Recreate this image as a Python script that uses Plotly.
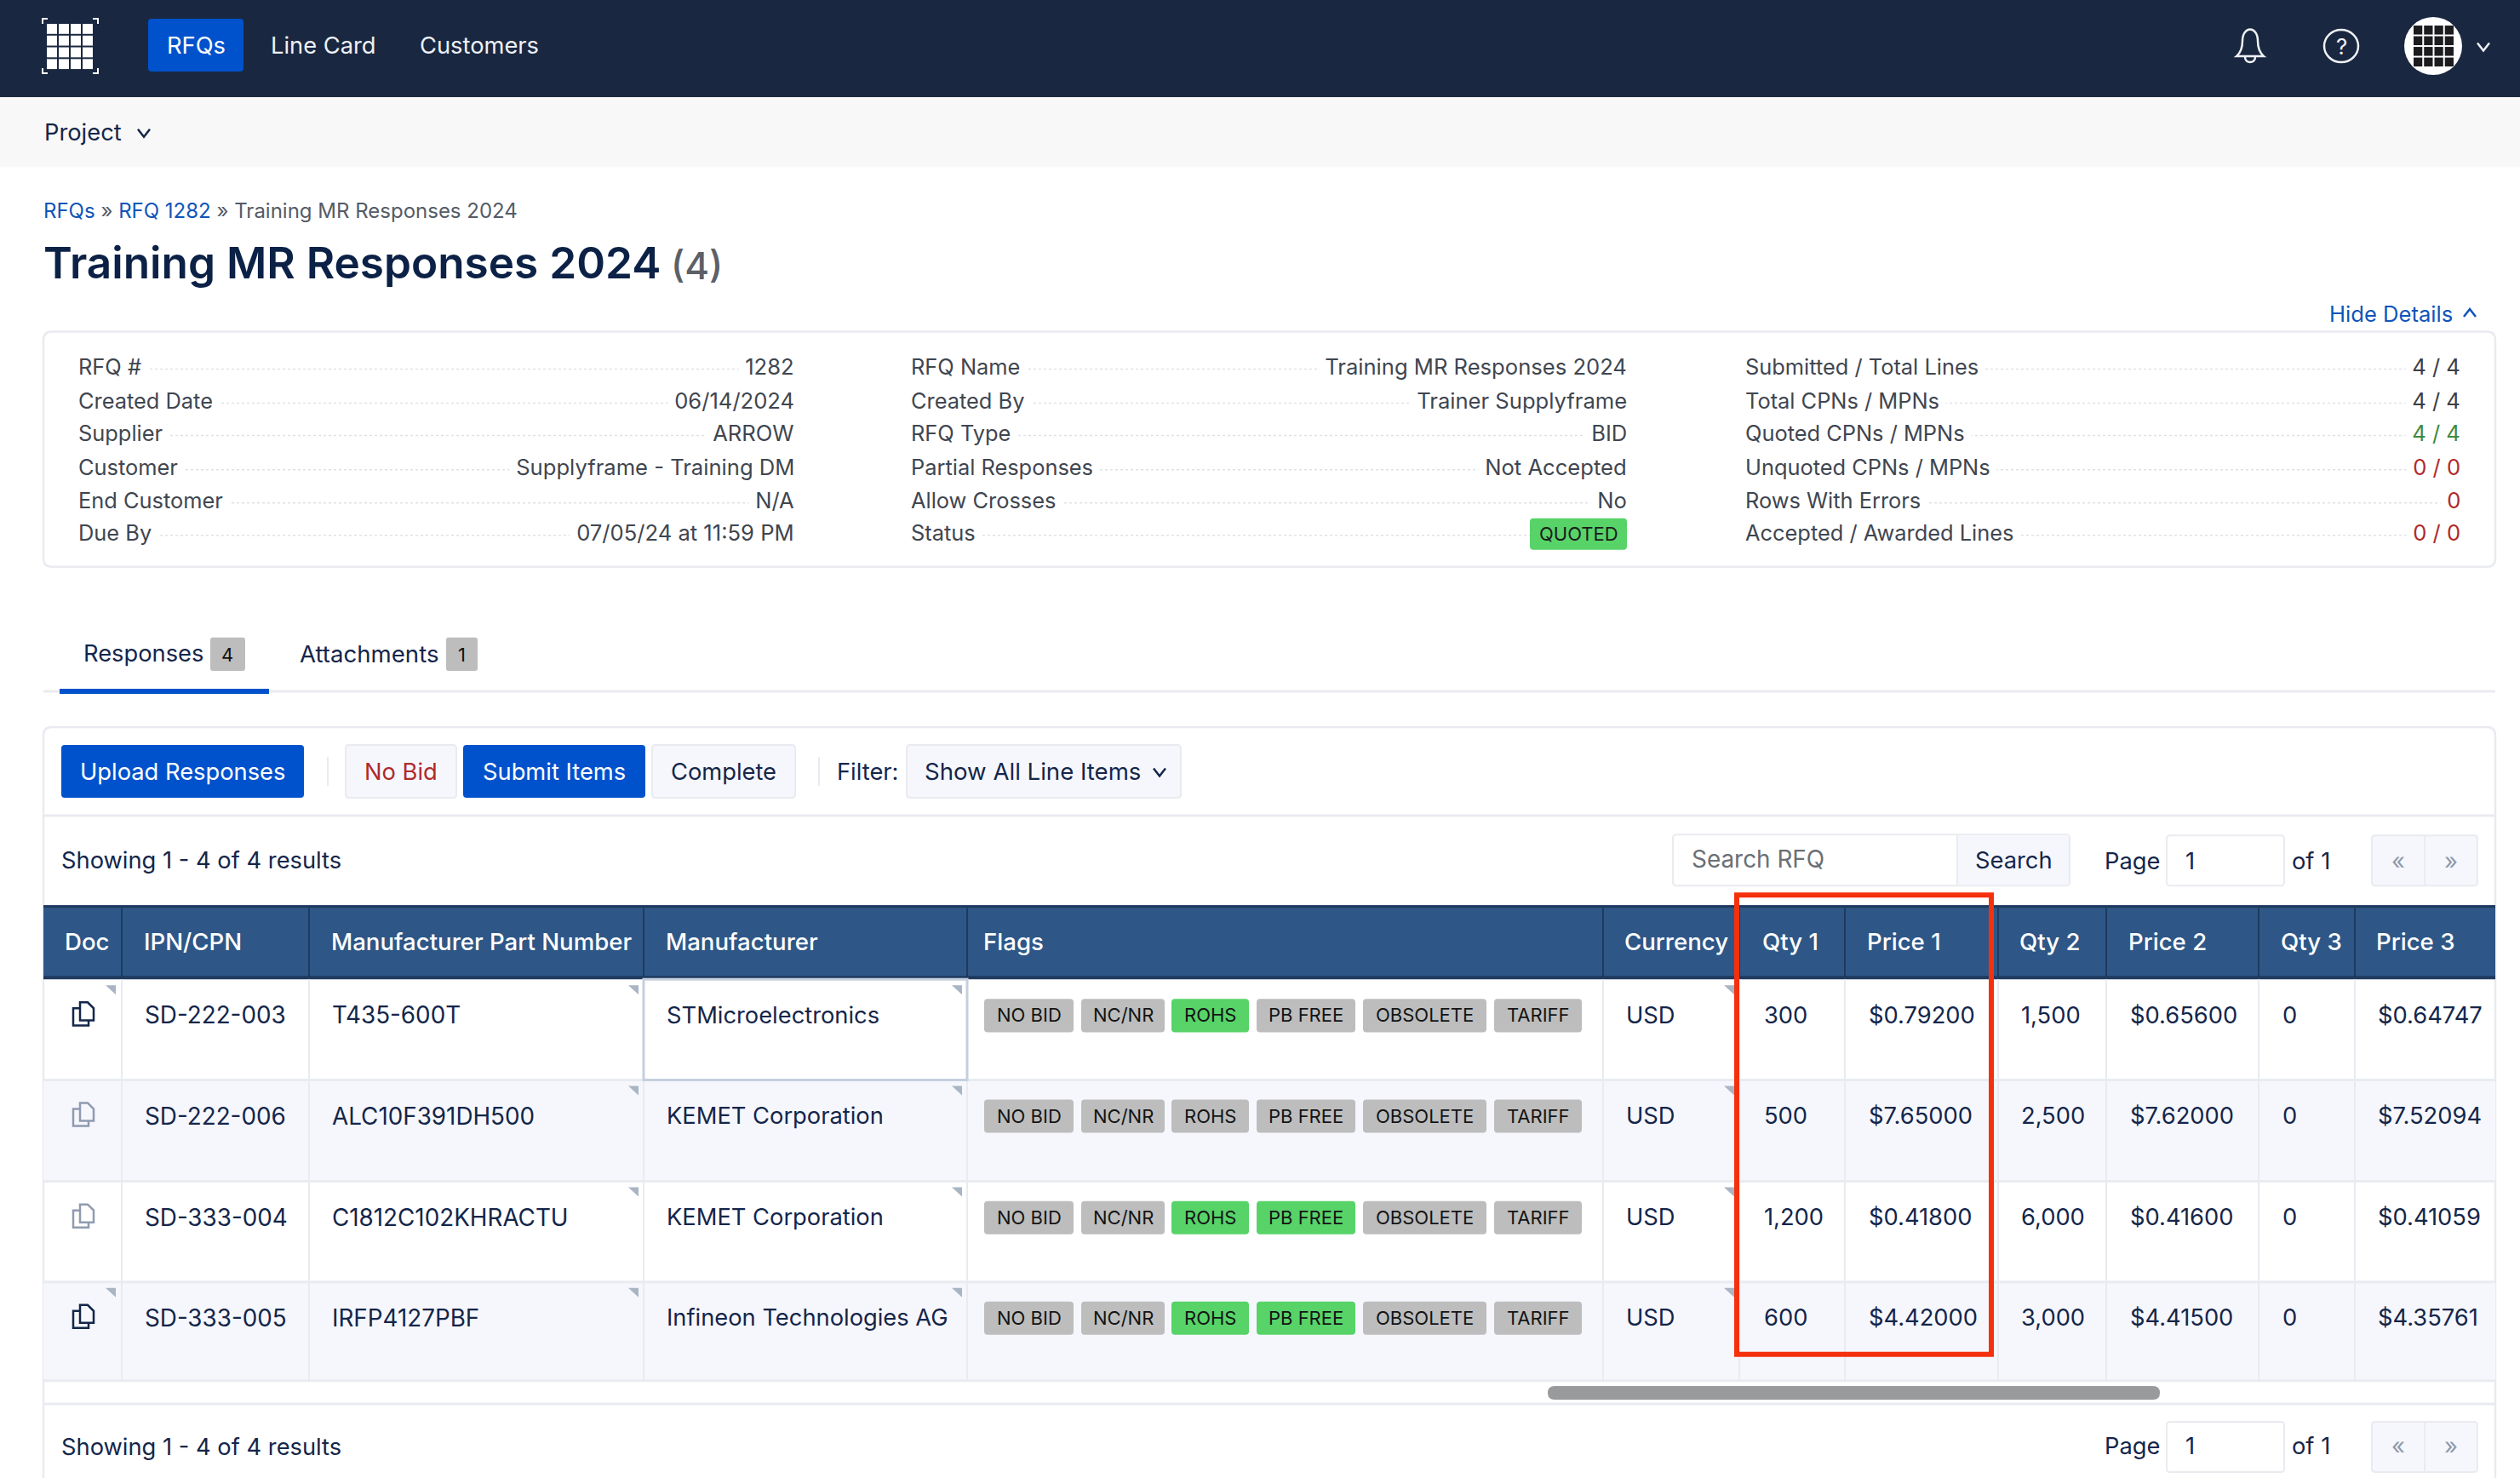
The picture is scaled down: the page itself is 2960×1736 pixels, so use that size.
import plotly.graph_objects as go

# text content
nav_items = ["RFQs", "Line Card", "Customers"]

detail_labels_1 = ["RFQ #", "Created Date", "Supplier", "Customer", "End Customer", "Due By"]
detail_values_1 = ["1282", "06/14/2024", "ARROW", "Supplyframe - Training DM", "N/A", "07/05/24 at 11:59 PM"]
detail_labels_2 = ["RFQ Name", "Created By", "RFQ Type", "Partial Responses", "Allow Crosses", "Status"]
detail_values_2 = ["Training MR Responses 2024", "Trainer Supplyframe", "BID", "Not Accepted", "No", ""]
detail_labels_3 = ["Submitted / Total Lines", "Total CPNs / MPNs", "Quoted CPNs / MPNs",
                   "Unquoted CPNs / MPNs", "Rows With Errors", "Accepted / Awarded Lines"]
detail_values_3 = ["4 / 4", "4 / 4", "4 / 4", "0 / 0", "0", "0 / 0"]
detail_colors_3 = ["#3b3f46", "#3b3f46", "#3d8b3d", "#b02a2a", "#b02a2a", "#b02a2a"]

headers = ["Doc", "IPN/CPN", "Manufacturer Part Number", "Manufacturer", "Flags", "Currency",
           "Qty 1", "Price 1", "Qty 2", "Price 2", "Qty 3", "Price 3"]
ipn = ["SD-222-003", "SD-222-006", "SD-333-004", "SD-333-005"]
mpn = ["T435-600T", "ALC10F391DH500", "C1812C102KHRACTU", "IRFP4127PBF"]
manufacturer = ["STMicroelectronics", "KEMET Corporation", "KEMET Corporation", "Infineon Technologies AG"]
currency = ["USD", "USD", "USD", "USD"]
qty_1 = ["300", "500", "1,200", "600"]
price_1 = ["$0.79200", "$7.65000", "$0.41800", "$4.42000"]
qty_2 = ["1,500", "2,500", "6,000", "3,000"]
price_2 = ["$0.65600", "$7.62000", "$0.41600", "$4.41500"]
qty_3 = ["0", "0", "0", "0"]
price_3 = ["$0.64747", "$7.52094", "$0.41059", "$4.35761"]
flag_names = ["NO BID", "NC/NR", "ROHS", "PB FREE", "OBSOLETE", "TARIFF"]
rohs_on = [True, False, True, True]
pb_free_on = [False, False, True, True]
doc_dark = [True, False, False, True]

# layout, in screen pixels
W, H = 2960, 1736
FONT = "Inter"
BODY = 27.3
INK = "#14264a"
GREY = "#3f4650"
LINE = "#e9ebf0"
BLUE = "#0052cc"
TINT = "#f6f7fc"
col_edges = [51, 143, 363, 756, 1136, 1883, 2043, 2167, 2347, 2474, 2653, 2766, 2931]
head_x = [76, 169, 389, 782, 1155, 1908, 2070, 2193, 2372, 2500, 2679, 2791]
cell_x = [98, 170, 390, 783, 1156, 1910, 2072, 2195, 2374, 2502, 2681, 2793]
row_edges = [1149, 1267, 1386, 1504, 1620]
row_mid = [1191, 1309, 1428, 1546]
flag_left = [1156, 1270, 1376, 1476, 1601, 1755]
flag_right = [1261, 1368, 1467, 1592, 1746, 1858]
detail_y = [430, 470, 508, 548, 587, 625]

shapes = []
annotations = []


def rect(x0, y0, x1, y1, fill=None, line=None, lw=2):
    shapes.append(dict(type="rect", x0=x0, y0=y0, x1=x1, y1=y1, fillcolor=fill or "rgba(0,0,0,0)",
                       line=dict(color=line or "rgba(0,0,0,0)", width=lw if line else 0)))


def rrect(x0, y0, x1, y1, r=5, fill=None, line=None, lw=2):
    d = (f"M{x0+r},{y0} L{x1-r},{y0} Q{x1},{y0} {x1},{y0+r} L{x1},{y1-r} Q{x1},{y1} {x1-r},{y1} "
         f"L{x0+r},{y1} Q{x0},{y1} {x0},{y1-r} L{x0},{y0+r} Q{x0},{y0} {x0+r},{y0} Z")
    shapes.append(dict(type="path", path=d, fillcolor=fill or "rgba(0,0,0,0)",
                       line=dict(color=line or "rgba(0,0,0,0)", width=lw if line else 0)))


def path(d, line=None, lw=2, fill=None):
    shapes.append(dict(type="path", path=d, fillcolor=fill or "rgba(0,0,0,0)",
                       line=dict(color=line or "rgba(0,0,0,0)", width=lw if line else 0)))


def hline(x0, x1, y, color=LINE, lw=2, dash=None):
    shapes.append(dict(type="line", x0=x0, x1=x1, y0=y, y1=y, line=dict(color=color, width=lw, dash=dash or "solid")))


def vline(x, y0, y1, color=LINE, lw=2):
    shapes.append(dict(type="line", x0=x, x1=x, y0=y0, y1=y1, line=dict(color=color, width=lw)))


def text(x, y, s, size=BODY, color=INK, anchor="left", weight=400, bg=None):
    if anchor == "left":
        x -= 1.5
    a = dict(x=x, y=y, text=s, showarrow=False, xanchor=anchor, yanchor="middle", borderpad=0,
             font=dict(family=FONT, size=size, color=color, weight=weight))
    if bg:
        a["bgcolor"] = bg
    annotations.append(a)


def chevron(cx, cy, color=INK, up=False):
    dy = -4.5 if up else 4.5
    path(f"M{cx-7},{cy-dy} L{cx},{cy+dy} L{cx+7},{cy-dy}", line=color, lw=2.5)


def grid_icon(x0, y0, x1, y1, color):
    w = (x1 - x0) / 4
    h = (y1 - y0) / 4
    for i in range(4):
        for j in range(4):
            rect(x0 + i * w + 1, y0 + j * h + 1, x0 + (i + 1) * w - 1, y0 + (j + 1) * h - 1, fill=color)


def doc_icon(y, color):
    path(f"M94,{y-8} L86,{y-8} L86,{y+12} L104,{y+12} L104,{y+6}", line=color, lw=2.5)
    path(f"M94,{y-15} L103,{y-15} L110,{y-8} L110,{y+6} L94,{y+6} Z", line=color, lw=2.5)


def triangle(right, top):
    path(f"M{right-12},{top} L{right},{top} L{right},{top+11} Z", fill="#a9b5c4")


# top bars
rect(0, 0, W, 114, fill="#1a2740")
rect(0, 114, W, 196, fill="#f8f8f8")
grid_icon(54, 27, 110, 82, "#ffffff")
for cx, sx in [(50, 1), (115, -1)]:
    for cy, sy in [(22, 1), (86, -1)]:
        path(f"M{cx},{cy+6*sy} L{cx},{cy} L{cx+6*sx},{cy}", line="#ffffff", lw=2)
rrect(174, 22, 286, 84, r=4, fill=BLUE)
text(230, 53, nav_items[0], color="#ffffff", anchor="center")
text(318, 53, nav_items[1], color="#eef1f5")
text(493, 53, nav_items[2], color="#eef1f5")
path("M2627,66 C2634,60 2634,52 2634,48 C2634,30 2652,30 2652,48 C2652,52 2652,60 2659,66 Z", line="#eef1f5", lw=2.5)
path("M2637,67 C2637,75 2649,75 2649,67", line="#eef1f5", lw=2.5)
shapes.append(dict(type="circle", x0=2730, x1=2770, y0=35, y1=73, line=dict(color="#eef1f5", width=2.5),
                   fillcolor="rgba(0,0,0,0)"))
text(2750, 54, "?", size=26, color="#eef1f5", anchor="center")
shapes.append(dict(type="circle", x0=2824, x1=2892, y0=20, y1=88, fillcolor="#ffffff", line=dict(width=0)))
grid_icon(2834, 29, 2883, 79, "#1c1c1e")
chevron(2917, 55, color="#eef1f5")
text(52, 155, "Project")
chevron(169, 156)

# heading
text(51, 247, '<span style="color:#0f55b8">RFQs</span> » <span style="color:#0f55b8">RFQ 1282</span> » Training MR Responses 2024',
     size=24, color="#555b66")
text(51, 308, "Training MR Responses 2024", size=51.3, color="#0c2146", weight=600)
text(788, 312, "(4)", size=44, color="#5c6067", weight=500)
text(2736, 368, "Hide Details", size=25.6, color="#0f55b8")
chevron(2901, 367, color="#0f55b8", up=True)

# details card
rrect(51, 389, 2931, 665, r=10, line=LINE, lw=2.5)
for labels, values, x0, x1 in [(detail_labels_1, detail_values_1, 92, 933),
                               (detail_labels_2, detail_values_2, 1070, 1911),
                               (detail_labels_3, detail_values_3, 2050, 2890)]:
    for i, y in enumerate(detail_y):
        hline(x0, x1, y + 3, color="#dfe1e6", lw=1.5, dash="dot")
        text(x0, y, labels[i] + " ", size=25.4, color=GREY, bg="#ffffff")
        if values[i]:
            color = detail_colors_3[i] if labels is detail_labels_3 else GREY
            text(x1 + 1, y, " " + values[i], size=25.6, color=color, anchor="right", bg="#ffffff")
rrect(1797, 608, 1911, 645, r=4, fill="#57d368")
text(1854, 626, "QUOTED", size=22, color="#1b1b1b", anchor="center")

# tabs
hline(51, 2931, 811, lw=3)
rect(70, 808, 316, 814, fill=BLUE)
text(98, 767, "Responses")
rrect(247, 748, 288, 787, r=3, fill="#bdbdbd")
text(267, 768, "4", size=22, color="#111111", anchor="center")
text(352, 767, "Attachments", size=27.6)
rrect(524, 748, 561, 787, r=3, fill="#bdbdbd")
text(542, 768, "1", size=22, color="#111111", anchor="center")

# toolbar
rrect(51, 853, 2931, 1800, r=10, line=LINE, lw=2.5)
hline(51, 2931, 957, lw=3)
rrect(72, 874, 357, 936, r=4, fill=BLUE)
text(214, 905, "Upload Responses", color="#ffffff", anchor="center")
vline(385, 888, 922)
rrect(406, 874, 536, 936, r=4, fill=TINT, line=LINE)
text(471, 905, "No Bid", color="#b02a2a", anchor="center")
rrect(544, 874, 758, 936, r=4, fill=BLUE)
text(651, 905, "Submit Items", color="#ffffff", anchor="center")
rrect(766, 874, 934, 936, r=4, fill=TINT, line=LINE)
text(850, 905, "Complete", anchor="center")
vline(962, 888, 922)
text(983, 905, "Filter:")
rrect(1065, 874, 1387, 936, r=4, fill=TINT, line=LINE)
text(1086, 905, "Show All Line Items", size=27.6)
chevron(1362, 906)

# search and pager
text(72, 1009, "Showing 1 - 4 of 4 results")
rrect(1965, 979, 2431, 1039, r=4, line=LINE)
rect(2299, 980, 2430, 1038, fill=TINT)
vline(2299, 979, 1039)
text(1987, 1008, "Search RFQ", size=27.9, color="#6b6f76")
text(2320, 1009, "Search")


def pager(y_top, y_bot, y_mid):
    text(2472, y_mid, "Page")
    rrect(2545, y_top, 2683, y_bot, r=4, line=LINE)
    text(2567, y_mid, "1")
    text(2692, y_mid, "of 1")
    rrect(2786, y_top, 2910, y_bot, r=4, fill=TINT, line=LINE)
    vline(2848, y_top, y_bot)
    text(2817, y_mid, "«", color="#8f99ab", anchor="center")
    text(2879, y_mid, "»", color="#8f99ab", anchor="center")


pager(980, 1039, 1010)

# table
rect(51, 1062, 2931, 1148, fill="#2e5787")
hline(51, 2931, 1063.5, color="#1f3a5f", lw=3)
hline(51, 2931, 1147, color="#1f3a5f", lw=4)
for x in col_edges[1:-1]:
    vline(x, 1064, 1146, color="#1f3a5f")
for label, x in zip(headers, head_x):
    text(x, 1105, label, size=27.6, color="#ffffff", weight=500)

rect(51, row_edges[1], 2931, row_edges[2], fill=TINT)
rect(51, row_edges[3], 2931, row_edges[4], fill=TINT)
for x in col_edges[1:-1]:
    vline(x, row_edges[0], row_edges[4])
for y in row_edges[1:]:
    hline(51, 2931, y, lw=3)
rect(756, 1149, 1136, 1267, line="#c5d0de", lw=3)

for r, y in enumerate(row_mid):
    top = row_edges[r] + 7
    doc_icon(y, "#14264a" if doc_dark[r] else "#8f9bb0")
    if doc_dark[r]:
        triangle(136, top)
    triangle(750, top)
    triangle(1130, top)
    triangle(2037, top)
    text(cell_x[1], y, ipn[r], size=27.8)
    text(cell_x[2], y, mpn[r], size=27.8)
    text(cell_x[3], y, manufacturer[r])
    for name, x0, x1 in zip(flag_names, flag_left, flag_right):
        on = (name == "ROHS" and rohs_on[r]) or (name == "PB FREE" and pb_free_on[r])
        rrect(x0, y - 19, x1, y + 20, r=4, fill="#57d368" if on else "#bdbdbd")
        text((x0 + x1) / 2, y, name, size=22, color="#141414", anchor="center")
    for col, x in zip([currency, qty_1, price_1, qty_2, price_2, qty_3, price_3], cell_x[5:]):
        text(x, y, col[r])

# highlight box and scrollbar
rect(2040, 1050, 2339, 1589, line="#f5300d", lw=6)
hline(51, 2931, 1647, lw=3)
rrect(1818, 1626, 2537, 1642, r=8, fill="#999a9c")

# footer
text(72, 1698, "Showing 1 - 4 of 4 results")
pager(1668, 1727, 1697)

fig = go.Figure()
fig.update_layout(
    width=W, height=H, margin=dict(l=0, r=0, t=0, b=0), showlegend=False,
    paper_bgcolor="#ffffff", plot_bgcolor="#ffffff",
    xaxis=dict(range=[0, W], visible=False, fixedrange=True),
    yaxis=dict(range=[H - 2, 0], visible=False, fixedrange=True),
    shapes=shapes, annotations=annotations,
)
fig.write_html("out.html", config=dict(displayModeBar=False),
               post_script="document.body.style.margin='0';document.body.style.overflow='hidden';")
